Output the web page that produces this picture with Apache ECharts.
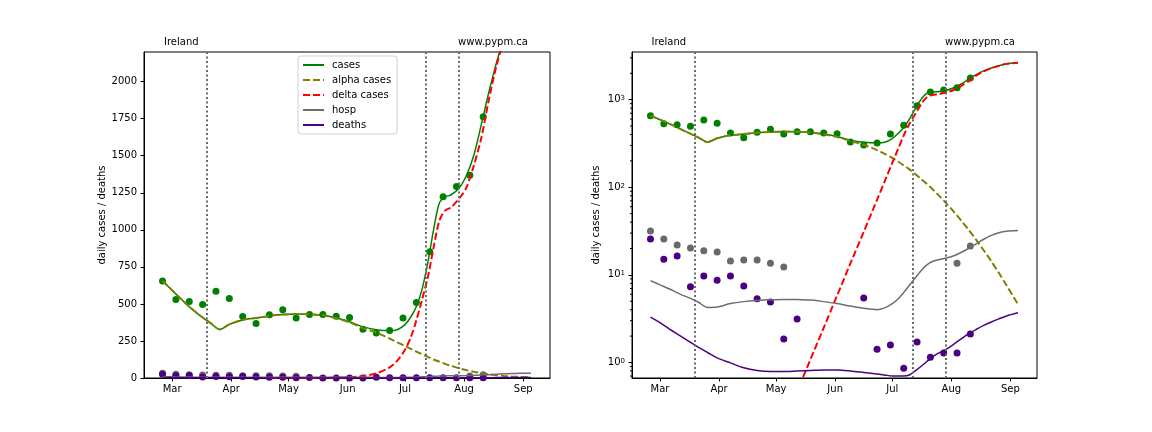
<!DOCTYPE html>
<html><head><meta charset="utf-8">
<script src="https://cdn.jsdelivr.net/npm/echarts@6/dist/echarts.min.js"></script>
<style>html,body{margin:0;padding:0;background:#fff}#c{width:1152px;height:432px}</style>
</head><body><div id="c"></div>
<script>
// ---------- data ----------
const dotDates = ['2021-02-24','2021-03-03','2021-03-10','2021-03-17','2021-03-24','2021-03-31','2021-04-07','2021-04-14','2021-04-21','2021-04-28','2021-05-05','2021-05-12','2021-05-19','2021-05-26','2021-06-02','2021-06-09','2021-06-16','2021-06-23','2021-06-30','2021-07-07','2021-07-14','2021-07-21','2021-07-28','2021-08-04','2021-08-11'];
const casesObs  = [655,530,516,496,586,537,415,367,426,460,405,429,429,417,408,329,304,321,405,510,852,1224,1292,1368,1763];
const hospObs   = [31.6,25.6,21.9,20.2,18.9,18.2,14.4,14.8,14.8,13.6,12.3,null,null,null,null,null,null,null,null,null,null,null,null,13.6,21.3];
const deathsObs = [25.6,15.1,16.4,7.3,9.7,8.7,9.7,7.45,5.34,4.89,1.85,3.13,0,0,0,0,5.43,1.42,1.58,0.86,1.71,1.15,1.28,1.28,2.11];

const fitDates = ['2021-02-24','2021-03-01','2021-03-06','2021-03-11','2021-03-16','2021-03-21','2021-03-26','2021-03-31','2021-04-07','2021-04-14','2021-04-21','2021-04-28','2021-05-05','2021-05-12','2021-05-19','2021-05-26','2021-06-02','2021-06-09','2021-06-16','2021-06-23','2021-06-27','2021-07-01','2021-07-04','2021-07-07','2021-07-10','2021-07-13','2021-07-16','2021-07-19','2021-07-22','2021-07-25','2021-07-29','2021-08-02','2021-08-06','2021-08-10','2021-08-14','2021-08-18','2021-08-22','2021-08-26','2021-08-30','2021-09-05'];
const casesFit  = [655,592,530,470,418,372,328,362,392,405,419,428,432,430,423,405,380,345,326,320,326,360,410,482,600,780,1000,1180,1222,1235,1275,1360,1500,1710,1930,2130,2300,2440,2570,2645];
const alphaFit  = [655,592,530,470,418,372,328,362,392,405,419,428,432,430,423,403,375,337,306,266,241,216,197,178,160,142,125,110,95.5,82.4,66.8,53.5,42.2,32.8,25.2,19.1,14.3,10.5,7.6,4.6];
const deltaFit  = [null,null,null,null,null,null,null,null,null,null,0.037,0.086,0.2,0.47,1.08,2.5,5.8,13.5,31,72,117,190,272,390,530,680,880,1060,1130,1150,1205,1280,1430,1620,1880,2110,2285,2430,2562,2640];
const hospFit   = [8.6,7.7,6.9,6.1,5.5,4.9,4.25,4.3,4.7,4.95,5.1,5.2,5.25,5.25,5.15,4.95,4.7,4.4,4.15,4.0,4.2,4.7,5.3,6.3,7.6,9.2,11.1,12.9,14.2,14.9,15.5,16.4,18.0,20.0,22.6,25.5,28.2,30.2,31.4,32.0];
const deathsFit = [3.3,2.85,2.4,2.05,1.75,1.5,1.3,1.13,0.99,0.87,0.81,0.79,0.79,0.8,0.81,0.82,0.82,0.8,0.77,0.74,0.72,0.7,0.7,0.7,0.72,0.8,0.9,1.02,1.15,1.27,1.4,1.6,1.85,2.12,2.38,2.65,2.9,3.15,3.4,3.7];

const breakDates = ['2021-03-19','2021-07-12','2021-07-29'];
const monthTicks = ['2021-03-01','2021-04-01','2021-05-01','2021-06-01','2021-07-01','2021-08-01','2021-09-01'];
const monthNames = ['Jan','Feb','Mar','Apr','May','Jun','Jul','Aug','Sep','Oct','Nov','Dec'];
const linTicks = [0,250,500,750,1000,1250,1500,1750,2000];
const logMinor = [0.7,0.8,0.9,2,3,4,5,6,7,8,9,20,30,40,50,60,70,80,90,200,300,400,500,600,700,800,900,2000,3000];
const legendNames = ['cases','alpha cases','delta cases','hosp','deaths'];
const titleLeft = 'Ireland', titleRight = 'www.pypm.ca', yName = 'daily cases / deaths';

// ---------- helpers ----------
const FONT = 'DejaVu Sans';
const t = s => Date.parse(s + 'T00:00:00Z');
const X_MIN = t('2021-02-14') + 7 * 3600e3, X_MAX = t('2021-09-15');
const pairs = (dates, vals, log) => dates.map((d, i) => [t(d), vals[i]]).filter(p => p[1] != null && !(log && p[1] <= 0));

const COLORS = {cases:'#008000', alpha:'#808000', delta:'#ff0000', hosp:'#6e6e6e', deaths:'#4b0082', hospDot:'#696969'};

function xAxis(gi) {
  return {
    type:'value', gridIndex:gi, min:X_MIN, max:X_MAX, scale:true,
    axisLine:{show:true, onZero:false, lineStyle:{color:'#000', width:1}},
    axisTick:{show:true, length:3.5, lineStyle:{color:'#000'}, customValues: monthTicks.map(t)},
    axisLabel:{customValues: monthTicks.map(t), formatter: v => monthNames[new Date(v).getUTCMonth()],
      color:'#000', fontSize:10, fontFamily:FONT, margin:6, hideOverlap:false},
    splitLine:{show:false}
  };
}

function panelSeries(gi, log) {
  const xi = gi, yi = gi;
  const line = (name, vals, color, width, type, extra) => Object.assign({
    type:'line', name, xAxisIndex:xi, yAxisIndex:yi, data: pairs(fitDates, vals, log),
    symbol:'none', showSymbol:false, smooth:0.3, silent:true,
    lineStyle:{color, width, type}, itemStyle:{color}, emphasis:{disabled:true}
  }, extra || {});
  const dots = (name, vals, color) => ({
    type:'scatter', name, xAxisIndex:xi, yAxisIndex:yi, data: pairs(dotDates, vals, log),
    symbol:'circle', symbolSize:7, itemStyle:{color, opacity:1}, silent:true, emphasis:{disabled:true}
  });
  return [
    line('cases', casesFit, COLORS.cases, 1.5, 'solid', {
      markLine:{silent:true, symbol:['none','none'], label:{show:false},
        lineStyle:{color:'#6a6a6a', type:[2,2.5], width:2},
        data: breakDates.map(d => ({xAxis: t(d)}))}
    }),
    line('alpha cases', alphaFit, COLORS.alpha, 2, [7,3]),
    line('delta cases', deltaFit, COLORS.delta, 2, [7,3]),
    line('hosp', hospFit, COLORS.hosp, 1.5, 'solid'),
    line('deaths', deathsFit, COLORS.deaths, 1.5, 'solid'),
    dots('cases data', casesObs, COLORS.cases),
    dots('hosp data', hospObs, COLORS.hospDot),
    dots('deaths data', deathsObs, COLORS.deaths)
  ];
}

const titleStyle = {fontSize:10, fontWeight:'normal', fontFamily:FONT, color:'#000'};
const nameStyle = {fontSize:10, fontFamily:FONT, color:'#000'};

const option = {
  animation:false,
  backgroundColor:'#fff',
  title:[
    {text:titleLeft, left:164, top:37, padding:0, textStyle:titleStyle},
    {text:titleRight, right:624, top:37, padding:0, textStyle:titleStyle},
    {text:titleLeft, left:651.5, top:37, padding:0, textStyle:titleStyle},
    {text:titleRight, right:137, top:37, padding:0, textStyle:titleStyle}
  ],
  legend:{
    data: legendNames, orient:'vertical', left:298, top:56,
    itemWidth:21, itemHeight:10, itemGap:5, padding:[4,6,4,4],
    itemStyle:{opacity:0},
    borderColor:'#d0d0d0', borderWidth:1, borderRadius:3, backgroundColor:'rgba(255,255,255,0.85)',
    textStyle:{fontFamily:FONT, fontSize:10, color:'#000', padding:[0,0,0,3]},
    selectedMode:false
  },
  grid:[
    {left:144, top:52, width:406, height:326, show:true, borderColor:'#000', borderWidth:1, backgroundColor:'transparent', containLabel:false, outerBoundsMode:'none'},
    {left:632, top:52, width:405, height:326, show:true, borderColor:'#000', borderWidth:1, backgroundColor:'transparent', containLabel:false, outerBoundsMode:'none'}
  ],
  xAxis:[xAxis(0), xAxis(1)],
  yAxis:[
    {type:'value', gridIndex:0, min:0, max:2200,
      axisLine:{show:true, lineStyle:{color:'#000'}},
      axisTick:{show:true, length:3.5, lineStyle:{color:'#000'}, customValues:linTicks},
      axisLabel:{customValues:linTicks, formatter: v => String(v), color:'#000', fontSize:10, fontFamily:FONT, margin:7},
      splitLine:{show:false},
      name:yName, nameLocation:'middle', nameGap:34, nameTextStyle:nameStyle},
    {type:'log', logBase:10, gridIndex:1, min:0.665, max:3500,
      axisLine:{show:true, lineStyle:{color:'#000'}},
      axisTick:{show:true, length:3.5, lineStyle:{color:'#000'}},
      axisLabel:{color:'#000', fontSize:10, fontFamily:FONT, margin:7, showMinLabel:false, showMaxLabel:false,
        formatter: v => { const e = Math.log10(v), r = Math.round(e); return Math.abs(e - r) > 1e-6 ? '' : '{b|10}{e|' + r + '}'; },
        rich:{b:{fontSize:10, fontFamily:FONT, color:'#000'}, e:{fontSize:7, fontFamily:FONT, color:'#000', verticalAlign:'top'}}},
      splitLine:{show:false}, minorTick:{show:false},
      name:yName, nameLocation:'middle', nameGap:31, nameTextStyle:nameStyle}
  ],
  series: [].concat(panelSeries(0, false), panelSeries(1, true), [{
    type:'custom', name:'minor ticks', xAxisIndex:1, yAxisIndex:1, silent:true, clip:false,
    data: logMinor.map(v => [X_MIN, v]),
    renderItem: (params, api) => {
      const p = api.coord([api.value(0), api.value(1)]);
      return {type:'line', shape:{x1:p[0]-2, y1:p[1], x2:p[0], y2:p[1]}, style:{stroke:'#000', lineWidth:1}};
    }
  }])
};

const chart = echarts.init(document.getElementById('c'), null, {renderer:'canvas'});
chart.setOption(option);
</script></body></html>
